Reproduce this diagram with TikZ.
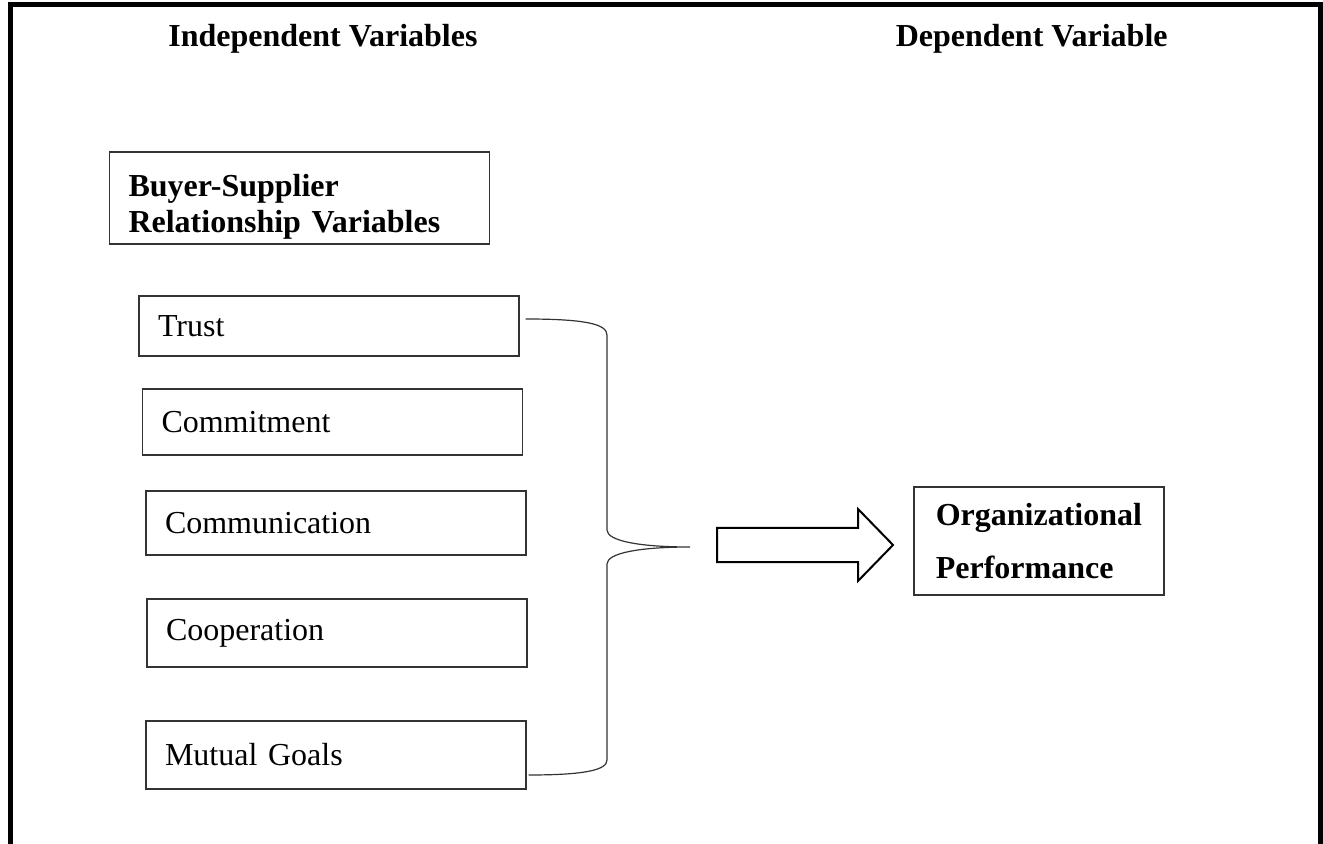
\documentclass[tikz,border=0pt]{standalone}
\usepackage{fontspec}
\setmainfont{Liberation Serif}
\usetikzlibrary{positioning,calc}
\tikzset{
  varbox/.style={draw=black!80, line width=0.6pt, minimum width=190pt, text width=171pt,
    inner xsep=9.5pt, inner ysep=2pt, align=left, font=\fontsize{16}{19}\selectfont},
  headtext/.style={font=\bfseries\fontsize{16}{19}\selectfont, inner sep=0pt}
}
\begin{document}
\begin{tikzpicture}[x=0.5pt,y=-0.5pt]
      \useasboundingbox (0,0) rectangle (1323,844);
      % Outer frame
      \draw[line width=2.5pt] (10,844) -- (10,5) -- (1320,5) -- (1320,844);
      % Headings
      \node[headtext, anchor=base west] (indep) at (168,47) {Independent Variables};
      \node[headtext, anchor=base east] (dep) at (1168,47) {Dependent Variable};
      % Group box
      \node[varbox, font=\bfseries\fontsize{16}{18}\selectfont, minimum height=46pt] (bsr) at (299.5,198)
        {\rule{0pt}{19.5pt}Buyer-Supplier\\Relationship Variables};
      % Variable boxes
      \node[varbox, minimum height=30pt] (trust) at (329,326) {Trust};
      \node[varbox, minimum height=33pt] (commit) at (332.5,422) {Commitment};
      \node[varbox, minimum height=32pt] (commun) at (336,523) {Communication};
      \node[varbox, minimum height=34pt] (coop) at (337,633) {Cooperation};
      \node[varbox, minimum height=34pt] (goals) at (336,755) {Mutual Goals};
      % Brace
      \coordinate (btop) at ($(trust.east)+(6,-7)$);
      \coordinate (bbot) at ($(goals.east)+(2,20)$);
      \coordinate (tip) at (690,547);
      \draw[black!80, line width=0.6pt] (btop) .. controls (585,319) and (607,324) .. (607,335) -- (607,530)
        .. controls (607,541) and (640,547) .. (tip)
        .. controls (640,547) and (607,553) .. (607,564) -- (607,760)
        .. controls (607,770) and (585,775) .. (bbot);
      % Dependent variable box
      \node[draw=black!80, line width=0.8pt, font=\bfseries\fontsize{16}{26.5}\selectfont, align=left,
        inner xsep=11pt, minimum height=54pt, anchor=west] (org) at (913,541) {Organizational\\Performance};
      % Block arrow
      \draw[line width=1pt] (717,528) -- (858,528) -- (858,509) -- (893,545) -- (858,581) -- (858,562) -- (717,562) -- cycle;
\end{tikzpicture}
\end{document}
